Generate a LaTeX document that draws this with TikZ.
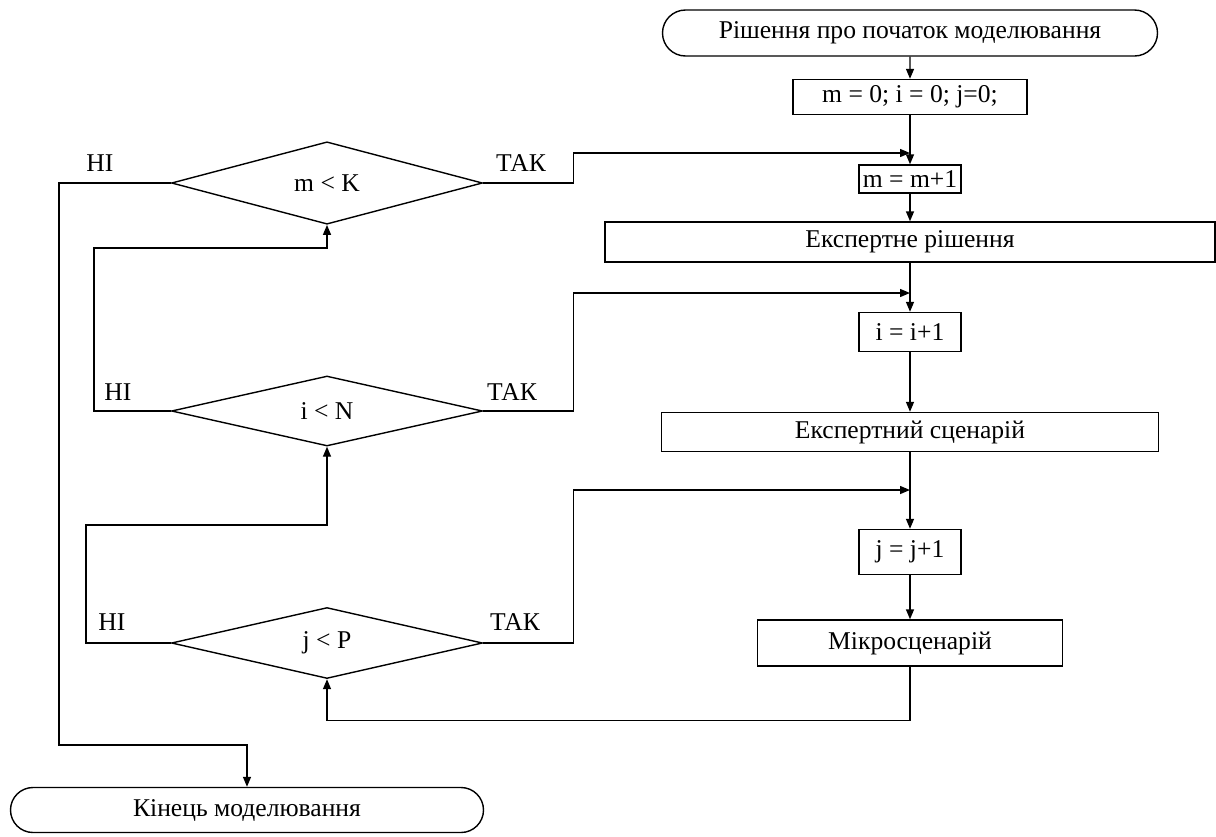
\documentclass[tikz,border=0pt]{standalone}
\usepackage{fontspec}
\setmainfont{Liberation Serif}
\usetikzlibrary{arrows.meta,shapes.geometric,shapes.misc}

\begin{document}
\begin{tikzpicture}[x=0.5pt, y=-0.5pt, line width=0.7pt,
    font=\fontsize{12.8}{15}\selectfont,
    box/.style={draw, rectangle, inner sep=0pt},
    term/.style={draw, rounded rectangle, inner sep=0pt},
    cond/.style={draw, diamond, inner sep=0pt, minimum width=155.5pt, minimum height=35pt},
    arr/.style={-{Triangle[length=5pt, width=4pt]}}]
    \useasboundingbox (0,0) rectangle (1216,836);
    % main column
    \node[term, minimum width=247.5pt, minimum height=23pt] (start) at (910,33) {Рішення про початок моделювання};
    \node[box, minimum width=117pt, minimum height=17.5pt] (init) at (910,97) {m = 0; i = 0; j=0;};
    \node[box, minimum width=51pt, minimum height=14pt] (incm) at (910,179) {m = m+1};
    \node[box, minimum width=305pt, minimum height=20pt] (expsol) at (910,242) {Експертне рішення};
    \node[box, minimum width=51pt, minimum height=19.5pt] (inci) at (910,332) {i = i+1};
    \node[box, minimum width=248.5pt, minimum height=19.5pt] (expscn) at (910,432) {Експертний сценарій};
    \node[box, minimum width=51pt, minimum height=22.5pt] (incj) at (910,552) {j = j+1};
    \node[box, minimum width=152.5pt, minimum height=23pt] (micro) at (910,643) {Мікросценарій};
    % joins of the loops
    \coordinate (joinm) at (910,153);
    \coordinate (joini) at (910,293);
    \coordinate (joinj) at (910,490);
    % conditions
    \node[cond] (condm) at (327,183) {m < K};
    \node[cond] (condi) at (327,411) {i < N};
    \node[cond] (condj) at (327,643) {j < P};
    \node (nom) at (100,163) {НІ};
    \node (yesm) at (521,163) {ТАК};
    \node (noi) at (118,392) {НІ};
    \node (yesi) at (512,392) {ТАК};
    \node (noj) at (112,622) {НІ};
    \node (yesj) at (515,622) {ТАК};
    % end
    \node[term, minimum width=236.5pt, minimum height=22.5pt] (finish) at (247,810) {Кінець моделювання};
    % flow down the column
    \draw[arr] (start) -- (init);
    \draw[arr] (init) -- (incm);
    \draw[arr] (incm) -- (expsol);
    \draw[arr] (expsol) -- (inci);
    \draw[arr] (inci) -- (expscn);
    \draw[arr] (expscn) -- (incj);
    \draw[arr] (incj) -- (micro);
    % yes branches
    \draw[arr] (condm.east) -- ++(90,0) |- (joinm);
    \draw[arr] (condi.east) -- ++(90,0) |- (joini);
    \draw[arr] (condj.east) -- ++(90,0) |- (joinj);
    % back to the conditions
    \draw[arr] (micro.south) -- ++(0,54) -| (condj.south);
    \draw[arr] (condj.west) -| ++(-85,-118) -| (condi.south);
    \draw[arr] (condi.west) -| ++(-77,-163) -| (condm.south);
    \draw[arr] (condm.west) -| ++(-112,562) -| (finish.north);
\end{tikzpicture}
\end{document}
